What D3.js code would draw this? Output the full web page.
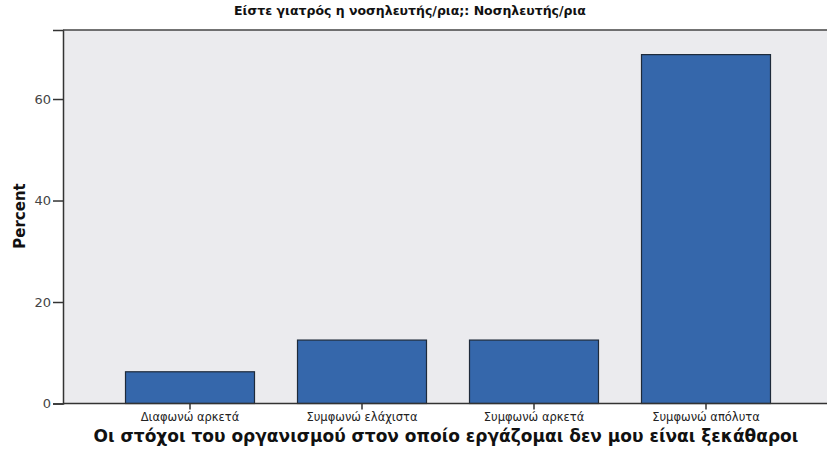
<!DOCTYPE html>
<html><head><meta charset="utf-8">
<script src="https://cdn.jsdelivr.net/npm/d3@7"></script>
<style>body{margin:0;background:#fff;} text{font-family:"DejaVu Sans",Arial,sans-serif;}</style>
</head><body><svg id="c" width="827" height="457"></svg>
<script>
const categories = ["Διαφωνώ αρκετά", "Συμφωνώ ελάχιστα", "Συμφωνώ αρκετά", "Συμφωνώ απόλυτα"];
const percents = [6.25, 12.5, 12.5, 68.75];
const yTicks = [0, 20, 40, 60];
const chartTitle = "Είστε γιατρός η νοσηλευτής/ρια;: Νοσηλευτής/ρια";
const xTitle = "Οι στόχοι του οργανισμού στον οποίο εργάζομαι δεν μου είναι ξεκάθαροι";
const yTitle = "Percent";

const svg = d3.select("#c");
const L = 63, T = 30, R = 827, B = 403.5;
const x = d3.scaleBand().domain(categories).range([104, 792]).paddingInner(0.25).paddingOuter(0.125);
const y = d3.scaleLinear().domain([0, 73.6]).range([B, T]);

svg.append("rect").attr("x", L).attr("y", T).attr("width", R - L).attr("height", B - T).attr("fill", "#ebebee");

svg.selectAll("rect.bar").data(percents).join("rect").attr("class", "bar")
  .attr("x", (d, i) => x(categories[i])).attr("width", x.bandwidth())
  .attr("y", d => y(d)).attr("height", d => B - y(d))
  .attr("fill", "#3567ab").attr("stroke", "#1e2a3a").attr("stroke-width", 1.2);

const ya = svg.append("g").attr("transform", `translate(${L},0)`)
  .call(d3.axisLeft(y).tickValues(yTicks).tickSize(10).tickPadding(2));
ya.select(".domain").attr("stroke", "#333").attr("stroke-width", 1.5);
ya.selectAll(".tick line").attr("stroke", "#333").attr("stroke-width", 1.5);
ya.selectAll("text").attr("font-family", "Liberation Sans, Arial, sans-serif").attr("font-size", 13).attr("fill", "#444");

const xa = svg.append("g").attr("transform", `translate(0,${B})`)
  .call(d3.axisBottom(x).tickSize(6).tickPadding(3).tickSizeOuter(0));
xa.select(".domain").attr("stroke", "#333").attr("stroke-width", 1.5).attr("d", `M${L},0H${R}`);
xa.selectAll(".tick line").attr("stroke", "#333").attr("stroke-width", 1.5);
xa.selectAll("text").attr("font-size", 11.5).attr("fill", "#222");

svg.append("line").attr("x1", L).attr("x2", R).attr("y1", T).attr("y2", T).attr("stroke", "#444").attr("stroke-width", 1.5);

svg.append("text").attr("x", 410).attr("y", 15).attr("text-anchor", "middle")
  .attr("font-size", 12.5).attr("font-weight", "bold").attr("fill", "#111").text(chartTitle);
svg.append("text").attr("x", 446).attr("y", 442).attr("text-anchor", "middle")
  .attr("font-size", 17).attr("font-weight", "bold").attr("fill", "#111").text(xTitle);
svg.append("text").attr("transform", "translate(25,216) rotate(-90)").attr("text-anchor", "middle")
  .attr("font-size", 15).attr("font-weight", "bold").attr("fill", "#111").text(yTitle);
</script></body></html>
